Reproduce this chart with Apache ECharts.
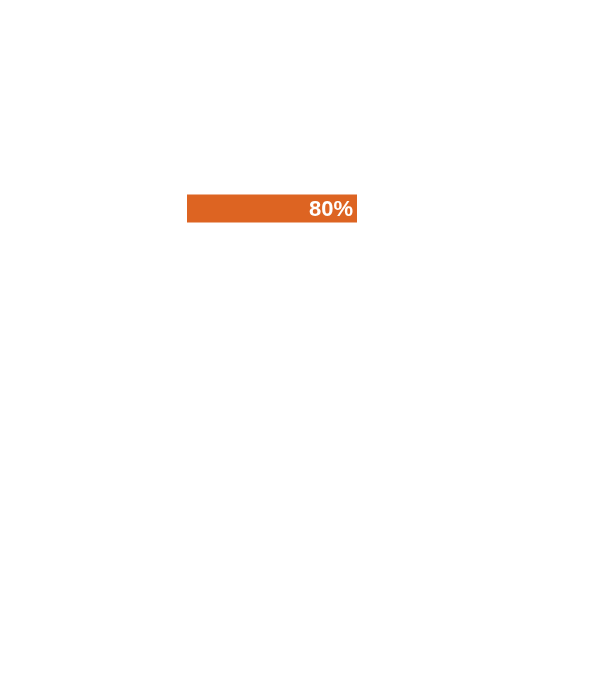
<!DOCTYPE html>
<html>
<head>
<meta charset="utf-8">
<script src="https://cdn.jsdelivr.net/npm/echarts@6/dist/echarts.min.js"></script>
<style>html,body{margin:0;padding:0;background:#fff;}#c{width:605px;height:680px;}</style>
</head>
<body>
<div id="c"></div>
<script>
var categories = ['Progress'];
var values = [80];
var chart = echarts.init(document.getElementById('c'), null, {renderer: 'canvas'});
chart.setOption({
  animation: false,
  backgroundColor: '#ffffff',
  grid: {left: 187, width: 212.5, top: 194.5, height: 28},
  xAxis: {type: 'value', min: 0, max: 100, show: false},
  yAxis: {type: 'category', data: categories, show: false},
  series: [{
    type: 'bar',
    data: values,
    barCategoryGap: 0,
    itemStyle: {color: '#DD6422'},
    label: {
      show: true,
      position: 'insideRight',
      formatter: '{c}%',
      color: '#ffffff',
      fontWeight: 'bold',
      fontSize: 22,
      fontFamily: 'Liberation Sans',
      distance: 4,
      offset: [0, 1]
    }
  }]
});
</script>
</body>
</html>
